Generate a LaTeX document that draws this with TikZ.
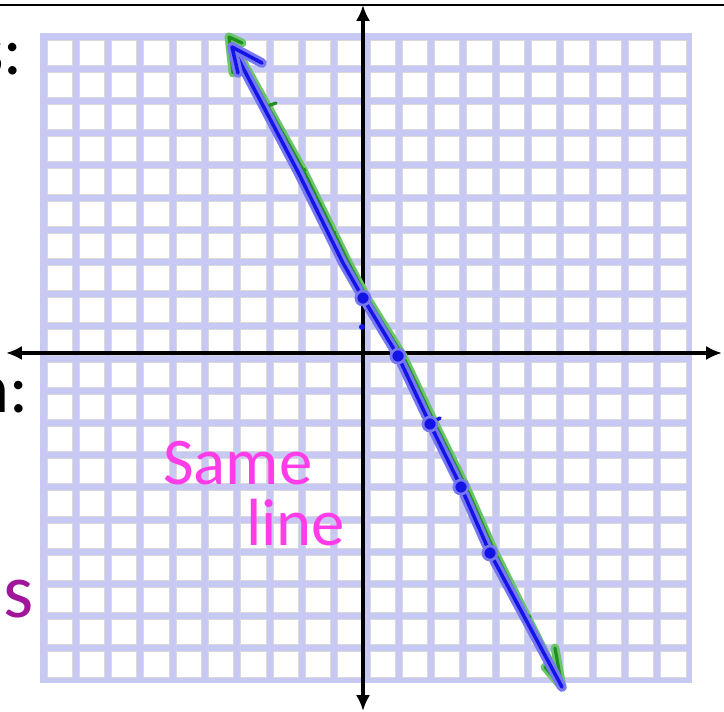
\documentclass[tikz,border=0pt]{standalone}
\usepackage{fontspec}
\newfontfamily\labelfont{Carlito}
\usepackage{tikz}
\usetikzlibrary{arrows.meta}
\definecolor{gridlav}{HTML}{C8C8F4}
\definecolor{penblue}{HTML}{1414E6}
\definecolor{haloblue}{HTML}{7878F2}
\definecolor{pengreen}{HTML}{1F8F1F}
\definecolor{halogreen}{HTML}{6CC46C}
\definecolor{penpink}{HTML}{FF3DE8}
\definecolor{penpurple}{HTML}{A0159A}

\begin{document}
\begin{tikzpicture}[x=0.02cm,y=-0.02cm,
every node/.style={inner sep=0pt},
cell/.style={fill=white,draw=black!15,line width=0.5pt},
axis/.style={{Latex[length=9pt,width=8pt]}-{Latex[length=9pt,width=8pt]},line width=2.2pt},
bluehalo/.style={haloblue,line width=5.5pt,line cap=round,line join=round},
blueink/.style={penblue,line width=2pt,line cap=round,line join=round},
greenhalo/.style={halogreen,line width=5pt,line cap=round,line join=round},
greenink/.style={pengreen,line width=1.8pt,line cap=round,line join=round},
dot/.style={circle,fill=penblue,draw=haloblue,line width=1.5pt,minimum size=0.28cm},
cut/.style={font=\labelfont\fontsize{40}{44}\selectfont},
ink/.style={font=\labelfont\fontsize{38}{44}\selectfont,text=penpink}]
\useasboundingbox (0,0) rectangle (724,711);

% grid paper
\fill[gridlav] (40,33) rectangle (692,683);
\foreach \i in {0,...,19}
  \foreach \j in {0,...,19}
    \filldraw[cell] ({47+32.3*\i},{40+32.2*\j}) rectangle ({72.3+32.3*\i},{65.2+32.2*\j});

% frame line and axes
\draw[line width=1.6pt] (0,5) -- (724,5);
\coordinate (xleft) at (6,353);
\coordinate (xright) at (722,353);
\coordinate (ytop) at (363,5);
\coordinate (ybottom) at (363,711);
\draw[axis] (xleft) -- (xright);
\draw[axis] (ybottom) -- (ytop);

% labels cut off at the left
\node[cut,anchor=base east] (lblS) at (23,74) {s:};
\node[cut,anchor=base east] (lblN) at (29,412) {n:};
\node[font=\labelfont\fontsize{44}{50}\selectfont,text=penpurple,anchor=base west] (lblP) at (3,617) {s};

% points on the line
\coordinate (topG) at (229,37);
\coordinate (topB) at (232,47);
\coordinate (endB) at (562,687);
\node[dot] (yint) at (363,298) {};
\node[dot] (xint) at (398,356) {};
\node[dot] (p3) at (430,424) {};
\node[dot] (p4) at (461,487) {};
\node[dot] (p5) at (490,553) {};

% green line
\draw[greenhalo] (topG) -- (303,170) -- (348,262) -- (367,298) -- (403,356) -- (435,424) -- (466,487) -- (495,553) -- (endB);
\draw[greenink] (topG) -- (303,170) -- (348,262) -- (367,298) -- (403,356) -- (435,424) -- (466,487) -- (495,553) -- (endB);
\draw[greenhalo] (233,73) -- (topG) -- (242,43);
\draw[greenink] (233,73) -- (topG) -- (242,43);
\draw[greenhalo] (555,648) -- (endB) -- (545,667);
\draw[greenink] (555,648) -- (endB) -- (545,667);
\foreach \a/\b in {{(262,108)}/{(276,103)},{(297,167)}/{(305,170)},{(330,230)}/{(335,233)},{(523,613)}/{(530,617)}}
  \draw[greenink] \a -- \b;

% blue line
\draw[bluehalo] (topB) -- (298,172) -- (343,263) -- (yint) -- (xint) -- (p3) -- (p4) -- (p5) -- (endB);
\draw[blueink] (topB) -- (298,172) -- (343,263) -- (yint) -- (xint) -- (p3) -- (p4) -- (p5) -- (endB);
\draw[bluehalo] (238,73) -- (topB) -- (262,63);
\draw[blueink] (238,73) -- (topB) -- (262,63);
\draw[blueink] (p3) -- (440,418);
\fill[penblue] (362,327) circle (3);
\foreach \n in {yint,xint,p3,p4,p5}
  \node[dot] at (\n) {};

% handwritten note
\node[ink,anchor=base west] (same) at (163,484) {Same};
\node[ink,anchor=base west] (line) at (246,545) {line};
\end{tikzpicture}
\end{document}
